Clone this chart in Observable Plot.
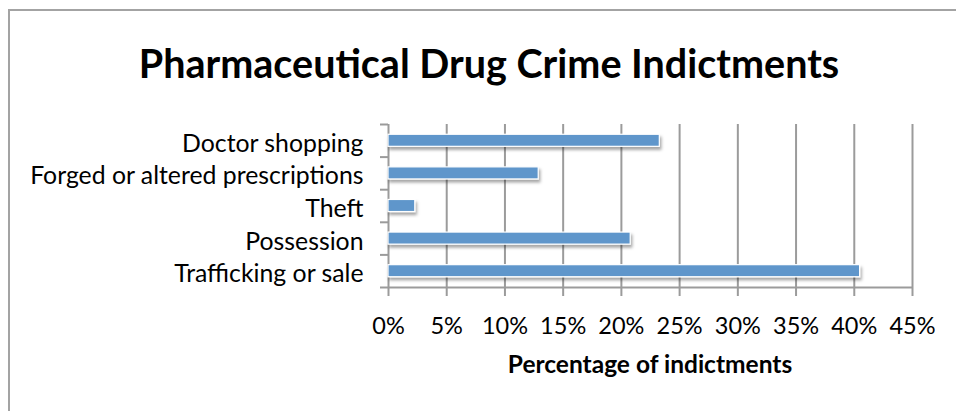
<!DOCTYPE html>
<html>
<head>
<meta charset="utf-8">
<script src="https://cdn.jsdelivr.net/npm/d3@7"></script>
<script src="https://cdn.jsdelivr.net/npm/@observablehq/plot@0.6"></script>
<style>
  html, body { margin: 0; padding: 0; background: #fff; }
  #wrap { position: relative; width: 956px; height: 411px; overflow: hidden; font-family: Lato, "Open Sans", sans-serif; }
  #border { position: absolute; left: 8px; top: 9px; width: 1000px; height: 500px; border-left: 2px solid #a3a3a3; border-top: 2px solid #a3a3a3; }
  #title { position: absolute; left: 8px; width: 962px; top: 39px; text-align: center; font-weight: bold; font-size: 39.5px; color: #000; line-height: 48px; }
  #chart { position: absolute; left: 0; top: 100px; }
  #xlabel { position: absolute; left: 388px; width: 524px; top: 349px; text-align: center; font-weight: bold; font-size: 24.5px; color: #000; line-height: 30px; }
</style>
</head>
<body>
<div id="wrap">
  <div id="border"></div>
  <div id="title">Pharmaceutical Drug Crime Indictments</div>
  <div id="chart"></div>
  <div id="xlabel">Percentage of indictments</div>
</div>
<script>
// Data (top-to-bottom order as drawn)
const categories = ["Doctor shopping", "Forged or altered prescriptions", "Theft", "Possession", "Trafficking or sale"];
const values = [23.3, 12.9, 2.3, 20.8, 40.5];
const xTicks = [0, 5, 10, 15, 20, 25, 30, 35, 40, 45];

const data = categories.map((c, i) => ({category: c, index: i, value: values[i]}));
const centers = categories.map((c, i) => i);
const boundaries = [-0.5, ...categories.map((c, i) => i + 0.5)];
const half = 0.185;
const gray = "#9b9b9b";
const font = "Lato, 'Open Sans', sans-serif";

const chart = Plot.plot({
  width: 956,
  height: 290,
  marginTop: 24,
  marginBottom: 103,
  marginLeft: 388,
  marginRight: 44,
  style: {fontFamily: font, background: "transparent", color: "#000"},
  x: {domain: [0, 45], ticks: xTicks},
  y: {domain: [-0.5, 4.5], reverse: true},
  marks: [
    Plot.gridX(xTicks, {stroke: gray, strokeOpacity: 1, strokeWidth: 2}),
    Plot.ruleY([4.5], {stroke: gray, strokeWidth: 2}),
    Plot.axisX({ticks: xTicks, tickSize: 9, tickPadding: 21, stroke: gray, strokeWidth: 2, fontSize: 23.5, tickFormat: d => d + "%", label: null, fill: "#000"}),
    Plot.axisY({ticks: boundaries, tickSize: 8, stroke: gray, strokeWidth: 2, tickFormat: () => "", label: null}),
    Plot.axisY({ticks: centers, tickSize: 0, tickPadding: 25, fontSize: 24.8, tickFormat: i => categories[i], label: null, fill: "#000", dy: 3}),
    Plot.rectX(data, {x1: 0, x2: "value", y1: d => d.index - half, y2: d => d.index + half, fill: "#5f96cb", stroke: "#fff", strokeWidth: 1.2})
  ]
});

const svg = d3.select(chart);
const defs = svg.insert("defs", ":first-child");
const f = defs.append("filter").attr("id", "shadow").attr("x", "-10%").attr("y", "-50%").attr("width", "120%").attr("height", "250%");
f.append("feDropShadow").attr("dx", 1.5).attr("dy", 3).attr("stdDeviation", 1.5).attr("flood-color", "#000").attr("flood-opacity", 0.35);
svg.selectAll("g[aria-label='rect']").attr("filter", "url(#shadow)");

document.getElementById("chart").appendChild(chart);
</script>
</body>
</html>
